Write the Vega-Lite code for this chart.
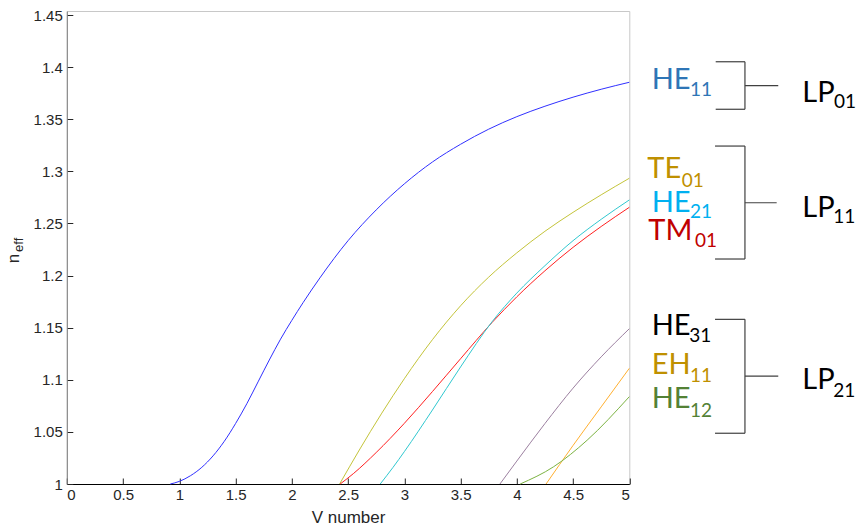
{
  "$schema": "https://vega.github.io/schema/vega-lite/v6.json",
  "autosize": "none",
  "width": 562.5,
  "height": 473,
  "padding": {"left": 66.8, "top": 11, "right": 229.7, "bottom": 44},
  "background": "white",
  "config": {
    "view": {"stroke": "#c8c8c8", "strokeWidth": 1},
    "axis": {"grid": false, "labelFont": "Liberation Sans", "labelFontSize": 15, "labelColor": "#262626", "titleFont": "Liberation Sans", "titleFontWeight": "normal", "titleColor": "#262626", "tickColor": "#262626", "tickSize": -6, "tickWidth": 1}
  },
  "datasets": {
    "curves": [
      {"mode": "HE11", "V": 0.92, "n": 1.0},
      {"mode": "HE11", "V": 1.0, "n": 1.0025},
      {"mode": "HE11", "V": 1.1, "n": 1.008},
      {"mode": "HE11", "V": 1.2, "n": 1.016},
      {"mode": "HE11", "V": 1.3, "n": 1.027},
      {"mode": "HE11", "V": 1.4, "n": 1.041},
      {"mode": "HE11", "V": 1.5, "n": 1.058},
      {"mode": "HE11", "V": 1.6, "n": 1.077},
      {"mode": "HE11", "V": 1.7, "n": 1.098},
      {"mode": "HE11", "V": 1.8, "n": 1.119},
      {"mode": "HE11", "V": 1.9, "n": 1.139},
      {"mode": "HE11", "V": 2.0, "n": 1.157},
      {"mode": "HE11", "V": 2.1, "n": 1.174},
      {"mode": "HE11", "V": 2.25, "n": 1.1978},
      {"mode": "HE11", "V": 2.5, "n": 1.2335},
      {"mode": "HE11", "V": 2.75, "n": 1.263},
      {"mode": "HE11", "V": 3.0, "n": 1.288},
      {"mode": "HE11", "V": 3.25, "n": 1.309},
      {"mode": "HE11", "V": 3.5, "n": 1.326},
      {"mode": "HE11", "V": 3.75, "n": 1.3405},
      {"mode": "HE11", "V": 4.0, "n": 1.3525},
      {"mode": "HE11", "V": 4.25, "n": 1.3625},
      {"mode": "HE11", "V": 4.5, "n": 1.3712},
      {"mode": "HE11", "V": 4.75, "n": 1.3788},
      {"mode": "HE11", "V": 5.0, "n": 1.3855},
      {"mode": "TE01", "V": 2.425, "n": 1.0},
      {"mode": "TE01", "V": 2.6, "n": 1.0326},
      {"mode": "TE01", "V": 2.8, "n": 1.068},
      {"mode": "TE01", "V": 3.0, "n": 1.101},
      {"mode": "TE01", "V": 3.25, "n": 1.1385},
      {"mode": "TE01", "V": 3.5, "n": 1.171},
      {"mode": "TE01", "V": 3.75, "n": 1.1985},
      {"mode": "TE01", "V": 4.0, "n": 1.2218},
      {"mode": "TE01", "V": 4.25, "n": 1.2425},
      {"mode": "TE01", "V": 4.5, "n": 1.2607},
      {"mode": "TE01", "V": 4.75, "n": 1.2775},
      {"mode": "TE01", "V": 5.0, "n": 1.2934},
      {"mode": "TM01", "V": 2.43, "n": 1.0},
      {"mode": "TM01", "V": 2.55, "n": 1.0102},
      {"mode": "TM01", "V": 2.75, "n": 1.0302},
      {"mode": "TM01", "V": 3.0, "n": 1.0582},
      {"mode": "TM01", "V": 3.25, "n": 1.0887},
      {"mode": "TM01", "V": 3.5, "n": 1.1202},
      {"mode": "TM01", "V": 3.78, "n": 1.155},
      {"mode": "TM01", "V": 4.0, "n": 1.1796},
      {"mode": "TM01", "V": 4.25, "n": 1.2046},
      {"mode": "TM01", "V": 4.5, "n": 1.2271},
      {"mode": "TM01", "V": 4.75, "n": 1.2471},
      {"mode": "TM01", "V": 5.0, "n": 1.2655},
      {"mode": "HE21", "V": 2.786, "n": 1.0},
      {"mode": "HE21", "V": 2.9, "n": 1.016},
      {"mode": "HE21", "V": 3.0, "n": 1.031},
      {"mode": "HE21", "V": 3.25, "n": 1.071},
      {"mode": "HE21", "V": 3.5, "n": 1.1123},
      {"mode": "HE21", "V": 3.78, "n": 1.1557},
      {"mode": "HE21", "V": 4.0, "n": 1.1832},
      {"mode": "HE21", "V": 4.25, "n": 1.2095},
      {"mode": "HE21", "V": 4.5, "n": 1.2335},
      {"mode": "HE21", "V": 4.75, "n": 1.254},
      {"mode": "HE21", "V": 5.0, "n": 1.2726},
      {"mode": "HE31", "V": 3.85, "n": 1.0},
      {"mode": "HE31", "V": 4.0, "n": 1.022},
      {"mode": "HE31", "V": 4.25, "n": 1.058},
      {"mode": "HE31", "V": 4.5, "n": 1.092},
      {"mode": "HE31", "V": 4.75, "n": 1.122},
      {"mode": "HE31", "V": 5.0, "n": 1.149},
      {"mode": "EH11", "V": 4.26, "n": 1.0},
      {"mode": "EH11", "V": 4.5, "n": 1.037},
      {"mode": "EH11", "V": 4.75, "n": 1.074},
      {"mode": "EH11", "V": 5.0, "n": 1.111},
      {"mode": "HE12", "V": 4.03, "n": 1.0},
      {"mode": "HE12", "V": 4.328, "n": 1.0166},
      {"mode": "HE12", "V": 4.625, "n": 1.042},
      {"mode": "HE12", "V": 5.0, "n": 1.0838}
    ],
    "brackets": [
      {"x1": 5.768, "x2": 6.028, "y1": 1.4052, "y2": 1.4052},
      {"x1": 5.768, "x2": 6.028, "y1": 1.3596, "y2": 1.3596},
      {"x1": 6.028, "x2": 6.028, "y1": 1.4052, "y2": 1.3596},
      {"x1": 6.028, "x2": 6.324, "y1": 1.3822, "y2": 1.3822},
      {"x1": 5.762, "x2": 6.028, "y1": 1.3243, "y2": 1.3243},
      {"x1": 5.762, "x2": 6.028, "y1": 1.2159, "y2": 1.2159},
      {"x1": 6.028, "x2": 6.028, "y1": 1.3243, "y2": 1.2159},
      {"x1": 6.028, "x2": 6.31, "y1": 1.2699, "y2": 1.2699},
      {"x1": 5.762, "x2": 6.028, "y1": 1.158, "y2": 1.158},
      {"x1": 5.762, "x2": 6.028, "y1": 1.0487, "y2": 1.0487},
      {"x1": 6.028, "x2": 6.028, "y1": 1.158, "y2": 1.0487},
      {"x1": 6.028, "x2": 6.324, "y1": 1.1036, "y2": 1.1036}
    ],
    "labels": [
      {"main": "HE", "sub": "11", "x": 5.199, "y": 1.3788, "xs": 5.54, "ys": 1.3726, "c": "#2e75b6"},
      {"main": "TE", "sub": "01", "x": 5.16, "y": 1.2933, "xs": 5.466, "ys": 1.2853, "c": "#bf9000"},
      {"main": "HE", "sub": "21", "x": 5.199, "y": 1.2613, "xs": 5.54, "ys": 1.255, "c": "#00b0f0"},
      {"main": "TM", "sub": "01", "x": 5.169, "y": 1.2341, "xs": 5.584, "ys": 1.2277, "c": "#c00000"},
      {"main": "HE", "sub": "31", "x": 5.199, "y": 1.143, "xs": 5.533, "ys": 1.136, "c": "#000000"},
      {"main": "EH", "sub": "11", "x": 5.199, "y": 1.1056, "xs": 5.54, "ys": 1.0982, "c": "#bf9000"},
      {"main": "HE", "sub": "12", "x": 5.199, "y": 1.0726, "xs": 5.54, "ys": 1.0646, "c": "#538135"},
      {"main": "LP", "sub": "01", "x": 6.538, "y": 1.3668, "xs": 6.82, "ys": 1.3605, "c": "#000000"},
      {"main": "LP", "sub": "11", "x": 6.538, "y": 1.2565, "xs": 6.813, "ys": 1.2502, "c": "#000000"},
      {"main": "LP", "sub": "21", "x": 6.538, "y": 1.0909, "xs": 6.813, "ys": 1.0838, "c": "#000000"}
    ],
    "ytitle": [
      {"t": "n", "x": -0.425, "y": 1.2164, "s": "main"},
      {"t": "eff", "x": -0.385, "y": 1.2295, "s": "sub"}
    ]
  },
  "layer": [
    {
      "data": {"name": "curves"},
      "mark": {"type": "line", "strokeWidth": 1, "interpolate": "monotone"},
      "encoding": {
        "x": {"field": "V", "type": "quantitative", "scale": {"domain": [0, 5], "nice": false, "zero": false},
              "axis": {"values": [0, 0.5, 1, 1.5, 2, 2.5, 3, 3.5, 4, 4.5, 5], "format": "~g", "title": "V number", "titleFontSize": 17, "titlePadding": 7, "domainColor": "#000000", "labelPadding": 9}},
        "y": {"field": "n", "type": "quantitative", "scale": {"domain": [1, 1.4539], "nice": false, "zero": false},
              "axis": {"values": [1, 1.05, 1.1, 1.15, 1.2, 1.25, 1.3, 1.35, 1.4, 1.45], "format": "~g", "title": null, "domainColor": "#808080", "labelPadding": 10.5}},
        "color": {"field": "mode", "type": "nominal", "legend": null,
                  "scale": {"domain": ["HE11", "TE01", "TM01", "HE21", "HE31", "EH11", "HE12"],
                            "range": ["#3030ff", "#c4c43a", "#ff2020", "#30c8d0", "#9c80a0", "#ffb030", "#7cb342"]}},
        "order": {"field": "V", "type": "quantitative"}
      }
    },
    {
      "data": {"name": "brackets"},
      "mark": {"type": "rule", "color": "#404040", "strokeWidth": 1.2},
      "encoding": {
        "x": {"field": "x1", "type": "quantitative"},
        "x2": {"field": "x2"},
        "y": {"field": "y1", "type": "quantitative"},
        "y2": {"field": "y2"}
      }
    },
    {
      "data": {"name": "labels"},
      "mark": {"type": "text", "font": "Lato", "fontSize": 29, "align": "left", "baseline": "alphabetic"},
      "encoding": {
        "x": {"field": "x", "type": "quantitative"},
        "y": {"field": "y", "type": "quantitative"},
        "text": {"field": "main"},
        "color": {"field": "c", "type": "nominal", "scale": null}
      }
    },
    {
      "data": {"name": "labels"},
      "mark": {"type": "text", "font": "Lato", "fontSize": 19, "align": "left", "baseline": "alphabetic"},
      "encoding": {
        "x": {"field": "xs", "type": "quantitative"},
        "y": {"field": "ys", "type": "quantitative"},
        "text": {"field": "sub"},
        "color": {"field": "c", "type": "nominal", "scale": null}
      }
    },
    {
      "data": {"name": "ytitle"},
      "mark": {"type": "text", "font": "Liberation Sans", "angle": 270, "align": "center", "baseline": "alphabetic", "color": "#262626"},
      "encoding": {
        "x": {"field": "x", "type": "quantitative"},
        "y": {"field": "y", "type": "quantitative"},
        "text": {"field": "t"},
        "size": {"field": "s", "type": "nominal", "scale": {"domain": ["main", "sub"], "range": [17, 13]}, "legend": null}
      }
    }
  ]
}
